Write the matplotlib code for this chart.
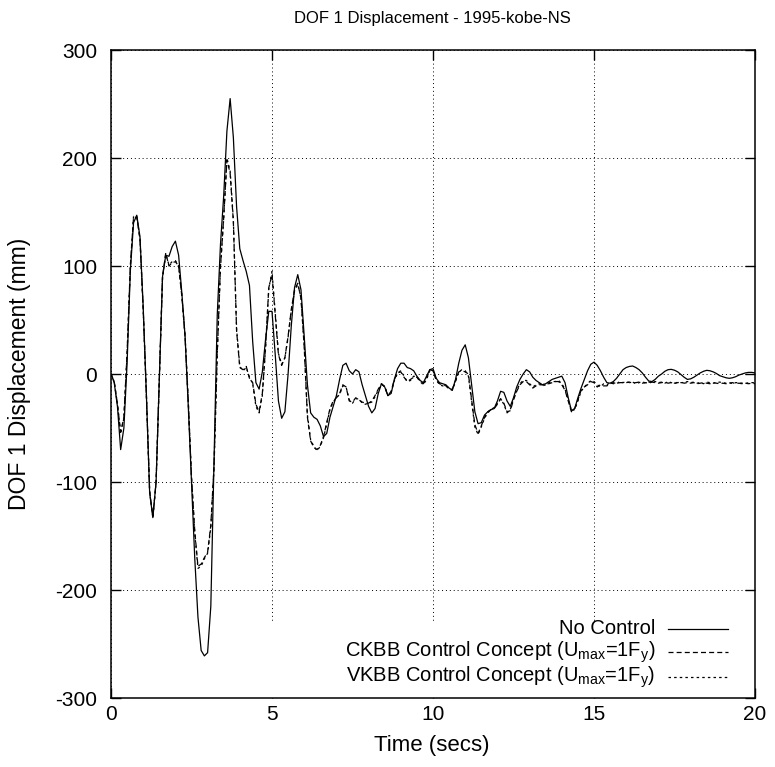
import numpy as np
import matplotlib
matplotlib.use('Agg')
import matplotlib.pyplot as plt
from matplotlib.lines import Line2D
from matplotlib.patches import Rectangle

plt.rcParams['font.family'] = ['Liberation Sans', 'DejaVu Sans']
plt.rcParams['mathtext.fontset'] = 'custom'
plt.rcParams['mathtext.rm'] = 'Liberation Sans'
plt.rcParams['mathtext.it'] = 'Liberation Sans'
plt.rcParams['axes.unicode_minus'] = False

# time axis (secs), one sample every 0.1 s
time = np.round(np.arange(0, 201) * 0.1, 1)

# DOF 1 displacement (mm)
no_control = [
    0, -8, -30, -70, -50, 10, 95, 140, 147, 127,
    62, -20, -110, -133, -100, -5, 90, 110, 109, 118,
    123, 110, 75, 35, -30, -100, -170, -225, -256, -261,
    -258, -215, -80, 55, 120, 165, 225, 255, 219, 155,
    116, 105, 95, 82, 30, -8, -14, 2, 32, 58,
    58, 18, -25, -41, -35, 0, 45, 80, 92, 78,
    35, -10, -36, -40, -42, -48, -58, -55, -40, -30,
    -20, -5, 8, 10, 3, 0, 4, 2, -10, -20,
    -30, -36, -32, -18, -9, -12, -20, -18, -5, 5,
    10, 10, 6, 5, 3, -2, -6, -8, -2, 4,
    5, -4, -8, -9, -10, -13, -15, -5, 10, 22,
    27, 15, -10, -35, -46, -45, -38, -35, -33, -32,
    -25, -16, -17, -25, -30, -22, -12, -5, 0, 4,
    2, -3, -6, -8, -10, -9, -7, -5, -4, -3,
    -2, -8, -22, -34, -32, -22, -13, -5, 3, 9,
    11, 8, 3, -3, -8, -8.5, -7, -4, 0, 4,
    6, 7, 7.4, 6, 4, 1, -3, -6.5, -7, -5,
    -2, 0, 2.5, 4, 4.3, 3.5, 2, -0.5, -3, -5,
    -4.5, -3, -1, 1, 2.5, 3.4, 3, 2, 0.5, -1.5,
    -2.5, -3.5, -4, -3.5, -2.5, -1, 0, 1, 1.5, 1.5,
    1,
]

ckbb = [
    0, -7, -28, -54, -40, 20, 100, 145, 145, 125,
    60, -20, -108, -132, -100, -5, 90, 112, 100, 103,
    104, 100, 72, 35, -25, -95, -145, -178, -176, -170,
    -165, -140, -85, 20, 100, 145, 198, 186, 141, 40,
    6, 4, 7, -4, -8, -28, -35, -18, 25, 80,
    92, 55, 18, 8, 15, 35, 60, 78, 84, 70,
    25, -40, -62, -68, -70, -66, -58, -45, -32, -25,
    -22, -18, -10, -12, -25, -26, -22, -24, -26, -27,
    -27, -25, -20, -14, -9, -12, -20, -16, -5, 1,
    2, -3, -7, -5, -3, -3, -6, -9, -4, 4,
    3, -6, -9, -10, -11, -13, -14, -6, 2, 3,
    2, 0, -24, -47, -55, -48, -40, -35, -33, -32,
    -28, -23, -27, -35, -34, -24, -16, -10, -7, -7,
    -10, -13, -11, -10, -10, -9, -9, -8, -7, -7,
    -10, -15, -25, -35, -32, -24, -15, -12, -10, -7,
    -8, -12, -10, -11, -11, -9, -8, -9, -8, -8,
    -8, -7.5, -8.5, -8, -7.5, -8.5, -8, -8.5, -7.5, -8,
    -8.5, -8, -7.5, -8.5, -8, -8.5, -8, -7.5, -8.5, -8,
    -8.5, -8, -9, -8.5, -8, -8.5, -9, -8, -8.5, -9,
    -8.5, -9, -8.5, -8, -9, -8.5, -9, -8.5, -9, -8.5,
    -9,
]

vkbb = [
    0, -7, -28, -55, -41, 19, 99, 146, 146, 125,
    60, -21, -109, -133, -101, -6, 89, 111, 101, 104,
    105, 100, 73, 35, -26, -96, -147, -180, -178, -171,
    -166, -142, -86, 18, 98, 144, 200, 188, 143, 42,
    7, 3, 6, -3, -9, -30, -36, -20, 24, 79,
    95, 57, 19, 9, 15, 34, 59, 77, 83, 71,
    27, -38, -61, -67, -71, -67, -59, -46, -33, -26,
    -22, -19, -11, -12, -24, -27, -23, -23, -27, -28,
    -27, -26, -21, -15, -10, -11, -20, -17, -6, 1,
    3, -2, -7, -6, -2, -3, -7, -10, -5, 3,
    3, -5, -10, -11, -11, -14, -15, -7, 2, 4,
    3, -2, -26, -49, -56, -49, -41, -36, -33, -31,
    -27, -23, -28, -36, -33, -23, -15, -9, -6, -6,
    -9, -12, -10, -9, -11, -10, -8, -7, -7, -6,
    -9, -14, -24, -34, -33, -25, -16, -12, -9, -6,
    -7, -10, -12, -9, -10, -8, -9, -9, -7, -8,
    -7, -8, -7.5, -9, -8, -7, -8.5, -7.5, -8, -7,
    -8, -7.5, -8.5, -7, -8, -9, -7.5, -8, -8, -7,
    -8, -7.5, -8.5, -8, -9, -7.5, -8, -8.5, -8, -7.5,
    -8, -8.5, -8, -9, -8, -8, -8.5, -9, -8, -8,
    -8,
]

labels = [
    'No Control',
    r'CKBB Control Concept (U$_{\mathrm{max}}$=1F$_{\mathrm{y}}$)',
    r'VKBB Control Concept (U$_{\mathrm{max}}$=1F$_{\mathrm{y}}$)',
]
styles = ['-', (0, (4, 2.5)), (0, (2, 2.5))]

fig = plt.figure(figsize=(7.75, 7.67), dpi=100)
ax = fig.add_axes([111 / 775, 69 / 767, 644 / 775, 648 / 767])

for series, ls in zip([no_control, ckbb, vkbb], styles):
    ax.plot(time, series, color='black', linestyle=ls, linewidth=0.9, zorder=2)

ax.set_xlim(0, 20)
ax.set_ylim(-300, 300)
ax.set_xticks([0, 5, 10, 15, 20])
ax.set_yticks([-300, -200, -100, 0, 100, 200, 300])
ax.tick_params(direction='in', length=7, width=1, top=True, right=True,
               labelsize=15)
ax.tick_params(axis='x', pad=5)
ax.tick_params(axis='y', pad=10)
ax.grid(True, color='black', linestyle=(0, (1, 3)), linewidth=0.7)
for s in ax.spines.values():
    s.set_linewidth(1.1)

# key area is cleared like gnuplot does
ax.add_patch(Rectangle((0.22, 0.0), 0.78, 0.118, transform=ax.transAxes,
                       facecolor='white', edgecolor='none', zorder=1.6))

key_y = [0.107, 0.071, 0.032]
for lab, ls, yy in zip(labels, styles, key_y):
    ax.text(0.845, yy, lab, transform=ax.transAxes, ha='right', va='center',
            fontsize=14.5, zorder=3)
    ax.add_line(Line2D([0.865, 0.958], [yy, yy], transform=ax.transAxes,
                       color='black', linestyle=ls, linewidth=0.9, zorder=3))

fig.text(432 / 775, 1 - 18 / 767, 'DOF 1 Displacement - 1995-kobe-NS',
         ha='center', va='center', fontsize=12)
fig.text(432 / 775, 1 - 745 / 767, 'Time (secs)', ha='center', va='center',
         fontsize=16)
fig.text(20 / 775, 1 - 374 / 767, 'DOF 1 Displacement (mm)', ha='center',
         va='center', rotation=90, fontsize=16.5)

fig.savefig('out.png', dpi=100)
